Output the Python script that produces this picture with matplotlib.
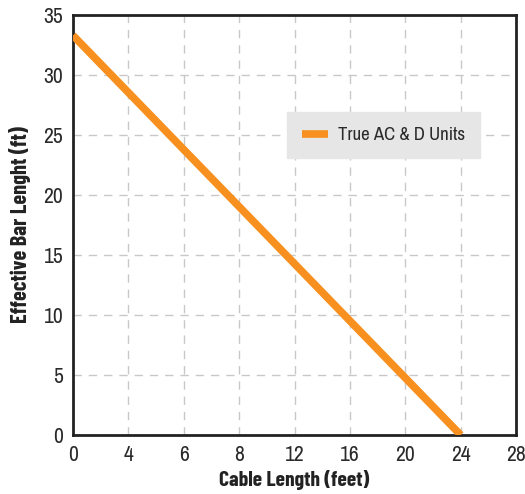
import matplotlib
matplotlib.use("Agg")
import matplotlib.pyplot as plt

# Cable length (feet) vs effective bar length (ft)
cable_length = [0, 24]
bar_length = [33.3, 0]
# x axis ticks are evenly spaced even though the values are not
x_tick_labels = [0, 4, 6, 8, 12, 16, 20, 24, 28]
y_ticks = [0, 5, 10, 15, 20, 25, 30, 35]
series_label = "True AC & D Units"

plt.rcParams['font.family'] = ['Archivo Narrow', 'DejaVu Sans']
label_font = ['Barlow Condensed', 'DejaVu Sans']

fig = plt.figure(figsize=(5.25, 4.94), dpi=100)
ax = fig.add_axes([0.139, 0.1194, 0.844, 0.8502])

# map each cable length onto its evenly spaced tick slot
x_pos = [x_tick_labels.index(v) for v in cable_length]
ax.plot(x_pos, bar_length, color="#f7901e", linewidth=5.5,
        solid_capstyle="butt", label=series_label, zorder=3)

ax.set_xlim(0, len(x_tick_labels) - 1)
ax.set_ylim(0, 35)
ax.set_xticks(range(len(x_tick_labels)))
ax.set_xticklabels([str(v) for v in x_tick_labels])
ax.set_yticks(y_ticks)
ax.tick_params(length=0, labelsize=15.5, colors="#2a2a2a", pad=7)
ax.grid(True, color="#c8c8c8", linestyle=(0, (6, 5)), linewidth=1)
ax.set_axisbelow(True)
for s in ax.spines.values():
    s.set_linewidth(2)
    s.set_color("#222222")

ax.set_xlabel("Cable Length (feet)", fontsize=15.5, fontweight="bold", labelpad=4,
              color="#222222", family=label_font)
ax.set_ylabel("Effective Bar Lenght (ft)", fontsize=16, fontweight="bold", labelpad=9,
              color="#222222", family=label_font)

leg = ax.legend(loc="upper left", bbox_to_anchor=(0.483, 0.769), fontsize=13.5,
                frameon=True, fancybox=False, handlelength=1.4, borderpad=0.8,
                handletextpad=0.5, borderaxespad=0, labelcolor="#2a2a2a")
leg.get_frame().set_facecolor("#e6e6e6")
leg.get_frame().set_edgecolor("#e6e6e6")
leg.get_frame().set_alpha(1)

fig.savefig("out.png", dpi=100)
